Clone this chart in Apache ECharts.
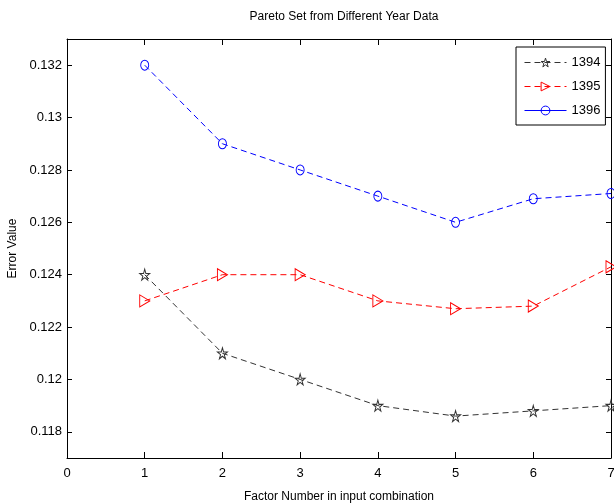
<!DOCTYPE html>
<html>
<head>
<meta charset="utf-8">
<script src="https://cdn.jsdelivr.net/npm/echarts@6/dist/echarts.min.js"></script>
<style>html,body{margin:0;padding:0;background:#fff}#c{width:614px;height:504px}</style>
</head>
<body>
<div id="c"></div>
<script>
var factors = [1, 2, 3, 4, 5, 6, 7];
var s1394 = [0.1240, 0.1210, 0.1200, 0.1190, 0.1186, 0.1188, 0.1190];
var s1395 = [0.1230, 0.1240, 0.1240, 0.1230, 0.1227, 0.1228, 0.1243];
var s1396 = [0.1320, 0.1290, 0.1280, 0.1270, 0.1260, 0.1269, 0.1271];
var yTicks = [0.118, 0.120, 0.122, 0.124, 0.126, 0.128, 0.130, 0.132];
var names = ['1394', '1395', '1396'];

function pairs(arr) { return factors.map(function (f, i) { return [f, arr[i]]; }); }
var FONT = 'Liberation Sans, Arial, sans-serif';
var starPath = 'path://M50,0 L61,35 L98,35 L68,57 L79,91 L50,70 L21,91 L32,57 L2,35 L39,35 Z';
var triPath = 'path://M0,0 L10,5 L0,10 Z';

function yLabel(v) {
  return (Math.round(v * 1000) / 1000).toString();
}

var chart = echarts.init(document.getElementById('c'), null, { renderer: 'canvas' });
chart.setOption({
  animation: false,
  backgroundColor: '#fff',
  title: {
    text: 'Pareto Set from Different Year Data',
    left: 339, top: 6, textAlign: 'center',
    textStyle: { fontFamily: FONT, fontSize: 12, fontWeight: 'normal', color: '#000' }
  },
  grid: { left: 67, top: 39, right: 3, bottom: 46, containLabel: false, outerBoundsMode: 'none' },
  legend: {
    orient: 'vertical', left: 516, top: 47,
    padding: [9, 5, 8, 8], itemGap: 11, itemWidth: 42, itemHeight: 11,
    borderColor: '#000', borderWidth: 1, backgroundColor: '#fff',
    textStyle: { fontFamily: FONT, fontSize: 13, color: '#000' },
    itemStyle: { color: 'rgba(255,255,255,0)', borderWidth: 1 },
    lineStyle: { width: 1 },
    data: [
      { name: names[0] },
      { name: names[1] },
      { name: names[2], lineStyle: { type: 'solid', width: 1 } }
    ]
  },
  xAxis: [{
    type: 'value', min: 0, max: 7, interval: 1, position: 'bottom',
    name: 'Factor Number in input combination', nameLocation: 'middle', nameGap: 33,
    nameTextStyle: { fontFamily: FONT, fontSize: 12, color: '#000' },
    axisLine: { show: true, onZero: false, lineStyle: { color: '#000', width: 1 } },
    axisTick: { show: true, inside: true, length: 6, lineStyle: { color: '#000' } },
    axisLabel: { fontFamily: FONT, fontSize: 13, color: '#000', margin: 9 },
    splitLine: { show: false }
  }, {
    type: 'value', min: 0, max: 7, interval: 1, position: 'top',
    axisLine: { show: true, onZero: false, lineStyle: { color: '#000', width: 1 } },
    axisTick: { show: true, inside: true, length: 6, lineStyle: { color: '#000' } },
    axisLabel: { show: false }, splitLine: { show: false }
  }],
  yAxis: [{
    type: 'value', min: 0.117, max: 0.133, position: 'left',
    name: 'Error Value', nameLocation: 'middle', nameGap: 46, nameRotate: 90,
    nameTextStyle: { fontFamily: FONT, fontSize: 12, color: '#000' },
    axisLine: { show: true, onZero: false, lineStyle: { color: '#000', width: 1 } },
    axisTick: { show: true, inside: true, length: 5, customValues: yTicks, lineStyle: { color: '#000' } },
    axisLabel: { fontFamily: FONT, fontSize: 13, color: '#000', margin: 5, customValues: yTicks, formatter: yLabel },
    splitLine: { show: false }
  }, {
    type: 'value', min: 0.117, max: 0.133, position: 'right',
    axisLine: { show: true, onZero: false, lineStyle: { color: '#000', width: 1 } },
    axisTick: { show: true, inside: true, length: 5, customValues: yTicks, lineStyle: { color: '#000' } },
    axisLabel: { show: false }, splitLine: { show: false }
  }],
  series: [{
    name: names[0], type: 'line', data: pairs(s1394), clip: false,
    symbol: starPath, symbolSize: [10, 11],
    lineStyle: { color: '#333', width: 1, type: [6, 4] },
    itemStyle: { color: 'rgba(255,255,255,0)', borderColor: '#333', borderWidth: 1 }
  }, {
    name: names[1], type: 'line', data: pairs(s1395), clip: false,
    symbol: triPath, symbolSize: [10, 12],
    lineStyle: { color: '#ff0000', width: 1, type: [6, 4] },
    itemStyle: { color: 'rgba(255,255,255,0)', borderColor: '#ff0000', borderWidth: 1 }
  }, {
    name: names[2], type: 'line', data: pairs(s1396), clip: false,
    symbol: 'circle', symbolSize: [8, 10],
    lineStyle: { color: '#0000ff', width: 1, type: [6, 4] },
    itemStyle: { color: 'rgba(255,255,255,0)', borderColor: '#0000ff', borderWidth: 1 }
  }]
});
</script>
</body>
</html>
